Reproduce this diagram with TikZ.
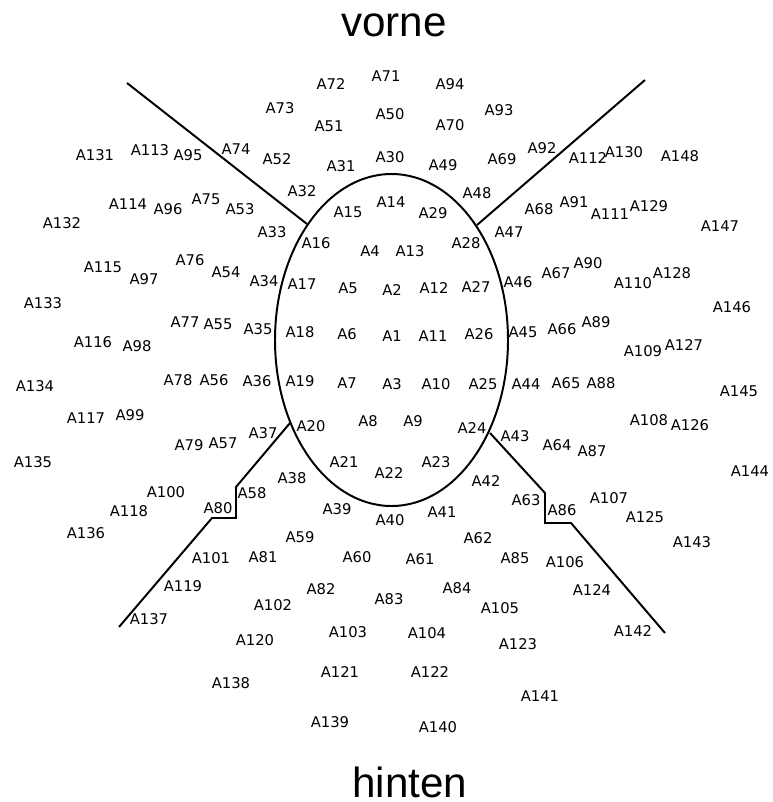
\documentclass[tikz,border=0pt]{standalone}
\usepackage{fontspec}
\setmainfont{DejaVu Sans}
\newfontfamily\titlefont{Liberation Sans}
\usetikzlibrary{calc}

\tikzset{
  elec/.style={inner sep=0pt, font=\fontsize{10.5}{12}\selectfont},
  side/.style={anchor=base, inner sep=0pt, font=\titlefont\fontsize{30}{36}\selectfont},
  rim/.style={line width=1.4pt, line join=miter}
}

\begin{document}
\begin{tikzpicture}[x=0.025cm,y=-0.025cm]
\useasboundingbox (0,0) rectangle (772,802);
\node[side] (vorne) at (394,36) {vorne};
\node[side] (hinten) at (410,797) {hinten};
% head outline and borders
\draw[rim] (391.5,340) ellipse [x radius=116.5, y radius=166];
\draw[rim] (127,83) -- (307,224);
\draw[rim] (645,80) -- (477,225);
\draw[rim] (290,423) -- (236,487) -- (236,518) -- (212,518) -- (119,627);
\draw[rim] (490,433) -- (545,493) -- (545,523) -- (571,523) -- (665,633);
% inner ring
\foreach \n/\x/\y in {1/392/336, 2/392/290, 3/392/384, 4/370/251, 5/348/288,
    6/347/334, 7/347/383, 8/368/421, 9/413/421, 10/436/384, 11/433/336,
    12/434/288, 13/410/251, 14/391/202, 15/348/212, 16/316/243, 17/302/284,
    18/300/332, 19/300/381, 20/311/426, 21/344/462, 22/389/473, 23/436/462,
    24/472/428, 25/483/384, 26/479/334, 27/476/287, 28/466/243, 29/433/213}
  \node[elec] (A\n) at (\x,\y) {A\n};
% outer rings
\foreach \n/\x/\y in {30/390/157, 31/341/166, 32/302/191, 33/272/232, 34/264/281,
    35/258/329, 36/257/381, 37/263/433, 38/292/478, 39/337/509, 40/390/520,
    41/442/512, 42/486/481, 43/515/436, 44/526/384, 45/523/332, 46/518/282,
    47/509/232, 48/477/193, 49/443/165, 50/390/114, 51/329/126, 52/277/159,
    53/240/209, 54/226/272, 55/218/324, 56/214/380, 57/223/443, 58/252/493,
    59/300/537, 60/357/557, 61/420/559, 62/478/538, 63/526/500, 64/557/445,
    65/566/383, 66/562/329, 67/556/273, 68/539/209, 69/502/159, 70/450/125,
    71/386/76, 72/331/84, 73/280/108, 74/236/149, 75/206/199, 76/190/260,
    77/185/322, 78/178/380, 79/189/445, 80/218/508, 81/263/557, 82/321/589,
    83/389/599, 84/457/588, 85/515/558, 86/562/510, 87/592/451, 88/601/383,
    89/596/322, 90/588/263, 91/574/202, 92/542/148, 93/499/110, 94/450/84}
  \node[elec] (A\n) at (\x,\y) {A\n};
\foreach \n/\x/\y in {95/188/155, 96/168/209, 97/144/279, 98/137/346, 99/130/415,
    100/166/492, 101/211/558, 102/273/605, 103/348/632, 104/427/633,
    105/500/608, 106/565/562, 107/609/498, 108/649/420, 109/643/351,
    110/633/283, 111/610/214, 112/588/158, 113/150/150, 114/128/204,
    115/103/267, 116/93/342, 117/86/418, 118/129/511, 119/183/586,
    120/255/640, 121/340/672, 122/430/672, 123/518/644, 124/592/590,
    125/645/517, 126/690/425, 127/684/345, 128/672/273, 129/649/206,
    130/624/152, 131/95/155, 132/62/223, 133/43/303, 134/35/386, 135/33/462,
    136/86/533, 137/149/619, 138/231/683, 139/330/722, 140/438/727,
    141/540/696, 142/633/631, 143/692/542, 144/750/471, 145/739/391,
    146/732/307, 147/720/226, 148/680/156}
  \node[elec] (A\n) at (\x,\y) {A\n};
\end{tikzpicture}
\end{document}
